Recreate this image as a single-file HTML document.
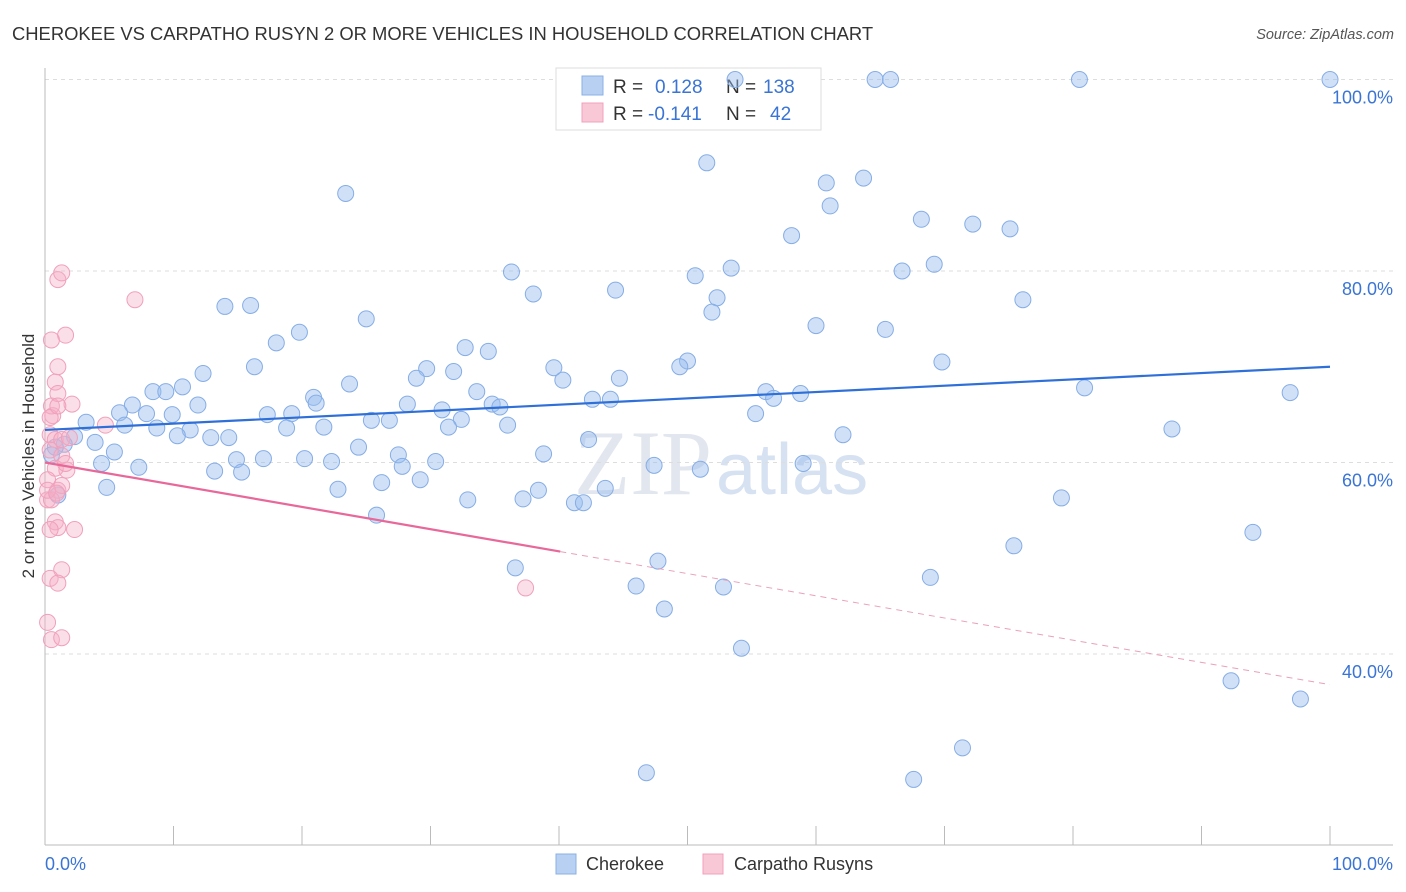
<!DOCTYPE html>
<html><head><meta charset="utf-8"><style>
body{margin:0;background:#fff;font-family:"Liberation Sans",sans-serif;}
svg{display:block}
</style></head><body>
<svg id="chart" width="1406" height="892">
<text x="12" y="40" font-size="18.4" fill="#333">CHEROKEE VS CARPATHO RUSYN 2 OR MORE VEHICLES IN HOUSEHOLD CORRELATION CHART</text>
<text x="1394" y="39" font-size="14.5" fill="#555" font-style="italic" text-anchor="end">Source: ZipAtlas.com</text>
<text x="712" y="494" font-size="92" fill="#e2e6ee" text-anchor="end" font-family="Liberation Serif,serif">ZIP</text>
<text x="716" y="494" font-size="72" fill="#d6e1f2">atlas</text>
<g id="grid"></g>
<g id="axes"></g>
<g>
<rect x="556" y="68" width="265" height="62" fill="#fff" stroke="#ddd"/>
<rect x="582" y="76" width="21" height="19" fill="#b8d1f3" stroke="#8ab0e6"/>
<rect x="582" y="103" width="21" height="19" fill="#f9c8d6" stroke="#f0a0bc"/>
<text x="613" y="93" font-size="19" fill="#333">R =</text>
<text x="655" y="93" font-size="19" fill="#3a74d4">0.128</text>
<text x="726" y="93" font-size="19" fill="#333">N =</text>
<text x="763" y="93" font-size="19" fill="#3a74d4">138</text>
<text x="613" y="120" font-size="19" fill="#333">R =</text>
<text x="648" y="120" font-size="19" fill="#3a74d4">-0.141</text>
<text x="726" y="120" font-size="19" fill="#333">N =</text>
<text x="770" y="120" font-size="19" fill="#3a74d4">42</text>
</g>
<g id="pts"></g>
<g id="trend"></g>
<text transform="translate(34,456) rotate(-90)" font-size="17" fill="#333" text-anchor="middle">2 or more Vehicles in Household</text>
<g>
<rect x="556" y="854" width="20" height="20" fill="#b8d1f3" stroke="#8ab0e6"/>
<text x="586" y="870" font-size="18" fill="#333">Cherokee</text>
<rect x="703" y="854" width="20" height="20" fill="#f9c8d6" stroke="#f0a0bc"/>
<text x="734" y="870" font-size="18" fill="#333">Carpatho Rusyns</text>
</g>
</svg>
<script>
const blueX=[53.7,64.6,65.8,80.5,100,51.5,23.4,60.8,63.7,61.1,68.2,72.2,75.1,58.1,36.3,66.7,69.2,53.4,50.6,38.0,44.4,52.3,51.9,76.1,14.0,16.0,25.0,60.0,65.4,19.8,18.0,32.7,34.5,50.0,49.4,69.8,16.3,39.6,40.3,29.7,31.8,28.9,12.3,23.7,10.7,8.4,9.4,20.9,21.1,33.6,44.7,42.6,44.0,56.1,56.7,58.8,80.9,96.9,6.8,5.8,7.9,11.9,9.9,34.8,35.4,28.2,30.9,32.4,17.3,19.2,3.2,6.2,8.7,21.7,25.4,26.8,31.4,36.0,18.8,55.3,11.3,10.3,14.3,12.9,42.3,62.1,87.7,2.3,3.9,1.5,24.4,5.4,14.9,17.0,20.2,22.3,27.5,30.4,27.8,38.8,47.4,51.0,59.0,4.4,7.3,13.2,15.3,29.2,26.2,22.8,43.6,38.4,32.9,37.2,41.2,41.9,25.8,4.8,79.1,94.0,75.4,36.6,47.7,68.9,46.0,52.8,48.2,54.2,92.3,97.7,71.4,46.8,67.6,1.0,0.8,0.5];
const blueY=[100,100,100,100,100,91.3,88.1,89.2,89.7,86.8,85.4,84.9,84.4,83.7,79.9,80.0,80.7,80.3,79.5,77.6,78.0,77.2,75.7,77.0,76.3,76.4,75.0,74.3,73.9,73.6,72.5,72.0,71.6,70.6,70.0,70.5,70.0,69.9,68.6,69.8,69.5,68.8,69.3,68.2,67.9,67.4,67.4,66.8,66.2,67.4,68.8,66.6,66.6,67.4,66.7,67.2,67.8,67.3,66.0,65.2,65.1,66.0,65.0,66.1,65.8,66.1,65.5,64.5,65.0,65.1,64.2,63.9,63.6,63.7,64.4,64.4,63.7,63.9,63.6,65.1,63.4,62.8,62.6,62.6,62.4,62.9,63.5,62.7,62.1,61.9,61.6,61.1,60.3,60.4,60.4,60.1,60.8,60.1,59.6,60.9,59.7,59.3,59.9,59.9,59.5,59.1,59.0,58.2,57.9,57.2,57.3,57.1,56.1,56.2,55.8,55.8,54.5,57.4,56.3,52.7,51.3,49.0,49.7,48.0,47.1,47.0,44.7,40.6,37.2,35.3,30.2,27.6,26.9,56.6,61.6,60.8];
const pinkX=[0.4,0.8,1.3,0.4,1.3,1.7,0.8,0.2,1.0,0.2,0.5,0.8,1.0,0.4,2.3,1.3,0.2,0.6,0.8,1.0,1.6,0.5,1.0,1.3,7.0,0.5,1.0,0.4,2.1,4.7,1.0,1.3,0.4,1.0,0.2,0.5,1.3,37.4,1.6,0.9,1.9];
const pinkY=[62.9,62.4,62.4,61.3,60.7,59.2,59.4,58.2,57.1,56.1,56.1,53.8,53.2,53.0,53.0,57.6,57.1,64.9,68.4,70.0,73.3,72.8,79.1,79.8,77.0,65.9,67.2,64.7,66.1,63.9,65.9,48.8,47.9,47.4,43.3,41.5,41.7,46.9,59.9,56.8,62.6];
const blueTrend=[63.4,70.0];
const pinkTrend=[60.0,36.8];
const pinkSolidEnd=40.1;
const yTicks=[100,80,60,40];
const xLabels=["0.0%","100.0%"];

const NS="http://www.w3.org/2000/svg";
const X0=45,X1=1330,Y100=79.5,PX=9.575;
function sx(v){return X0+(X1-X0)*v/100;}
function sy(v){return Y100+(100-v)*PX;}
function mk(tag,attrs,parent){const e=document.createElementNS(NS,tag);for(const k in attrs)e.setAttribute(k,attrs[k]);parent.appendChild(e);return e;}
const grid=document.getElementById('grid'),axes=document.getElementById('axes'),pts=document.getElementById('pts'),trend=document.getElementById('trend');
yTicks.forEach(v=>{
 const l=mk('line',{x1:45,x2:1393,y1:sy(v),y2:sy(v),stroke:'#ddd','stroke-dasharray':'4,4'},grid);
 
 
 const t=mk('text',{x:1393,y:sy(v)+24,'font-size':18,fill:'#3a74d4','text-anchor':'end'},grid);
 t.textContent=v.toFixed(1)+'%';
 
 
});
let a=mk('line',{x1:45,x2:45,y1:68,y2:845,stroke:'#bbb'},axes);


a=mk('line',{x1:45,x2:1393,y1:845,y2:845,stroke:'#bbb'},axes);


for(let i=1;i<=10;i++){
 const tk=mk('line',{x1:sx(i*10),x2:sx(i*10),y1:826,y2:845,stroke:'#bbb'},axes);
 
 
}
let t0=mk('text',{x:45,y:870,'font-size':18,fill:'#3a74d4'},axes);t0.textContent=xLabels[0];


let t1=mk('text',{x:1393,y:870,'font-size':18,fill:'#3a74d4','text-anchor':'end'},axes);t1.textContent=xLabels[1];


blueX.forEach((x,i)=>{
 const c=mk('circle',{cx:sx(x),cy:sy(blueY[i]),r:8,fill:'rgba(150,188,238,0.45)',stroke:'#86ade6','stroke-width':1},pts);
 
 
});
pinkX.forEach((x,i)=>{
 const c=mk('circle',{cx:sx(x),cy:sy(pinkY[i]),r:8,fill:'rgba(246,175,198,0.4)',stroke:'#f0a0bc','stroke-width':1},pts);
 
 
});
let bl=mk('line',{x1:sx(0),y1:sy(blueTrend[0]),x2:sx(100),y2:sy(blueTrend[1]),stroke:'#2f6fd8','stroke-width':2.2},trend);


const pAt=v=>pinkTrend[0]+(pinkTrend[1]-pinkTrend[0])*v/100;
let pl=mk('line',{x1:sx(0),y1:sy(pinkTrend[0]),x2:sx(pinkSolidEnd),y2:sy(pAt(pinkSolidEnd)),stroke:'#e8689a','stroke-width':2.2},trend);


let pd=mk('line',{x1:sx(pinkSolidEnd),y1:sy(pAt(pinkSolidEnd)),x2:sx(100),y2:sy(pinkTrend[1]),stroke:'#eaa0bb','stroke-width':1,'stroke-dasharray':'6,5'},trend);


</script>
</body></html>
